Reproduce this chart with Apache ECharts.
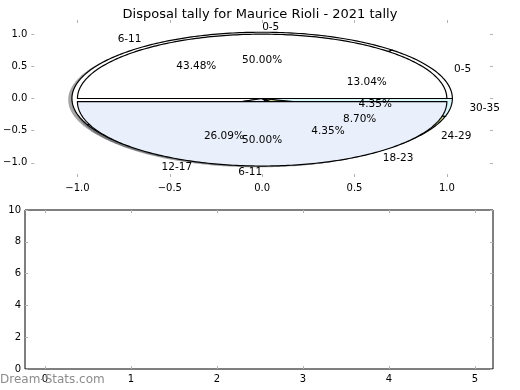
<!DOCTYPE html>
<html><head><meta charset="utf-8">
<script src="https://cdn.jsdelivr.net/npm/echarts@6/dist/echarts.min.js"></script>
<style>html,body{margin:0;padding:0;background:#fff}#c{width:520px;height:390px}</style>
</head><body><div id="c"></div>
<script>
// ---- data ----
const titleText = 'Disposal tally for Maurice Rioli - 2021 tally';
const halfCategories = ['0-5', '6-11'];
const halfValues = [1, 1];
const tallyCategories = ['0-5', '6-11', '12-17', '18-23', '24-29', '30-35'];
const tallyValues = [3, 10, 6, 1, 2, 1];
const pieTickValues = [-1.0, -0.5, 0.0, 0.5, 1.0];
const lowerXTicks = [0, 1, 2, 3, 4, 5];
const lowerYTicks = [0, 2, 4, 6, 8, 10];
const watermark = 'Dream-Stats.com';

// ---- styles ----
const FONT = 'DejaVu Sans';
const halfColors = ['#ffffff', '#eaf0fb'];
const tallyColors = ['#ffffff', '#ffffff', '#eaf0fb', '#ffffff', '#cbdb92', '#d9f6fa'];
const halfExplode = [0, 0.05];
const tallyExplode = [0, 0, 0, 0, 0, 0];
const halfRadius = 1.0;
const tallyRadius = 1.03;

function buildWedges(cats, values, colors, explode, radius) {
  const total = values.reduce((a, b) => a + b, 0);
  let theta = 0;
  return values.map((v, i) => {
    const t1 = theta, t2 = theta + 360 * v / total;
    theta = t2;
    const mid = (t1 + t2) / 2 * Math.PI / 180;
    const cx = explode[i] * Math.cos(mid), cy = explode[i] * Math.sin(mid);
    const xt = cx + 1.1 * radius * Math.cos(mid), yt = cy + 1.1 * radius * Math.sin(mid);
    return {
      t1, t2, cx, cy, r: radius, color: colors[i],
      label: cats[i], lx: xt, ly: yt, align: xt > 0 ? 'left' : 'right',
      pct: (v / total * 100).toFixed(2) + '%',
      px: cx + 0.6 * radius * Math.cos(mid), py: cy + 0.6 * radius * Math.sin(mid)
    };
  });
}
const halfW = buildWedges(halfCategories, halfValues, halfColors, halfExplode, halfRadius);
const tallyW = buildWedges(tallyCategories, tallyValues, tallyColors, tallyExplode, tallyRadius);

function wedgePoints(api, w, dx, dy) {
  const pts = [api.coord([w.cx + dx, w.cy + dy])];
  const n = Math.max(2, Math.ceil((w.t2 - w.t1) / 1));
  for (let k = 0; k <= n; k++) {
    const t = (w.t1 + (w.t2 - w.t1) * k / n) * Math.PI / 180;
    pts.push(api.coord([w.cx + dx + w.r * Math.cos(t), w.cy + dy + w.r * Math.sin(t)]));
  }
  return pts;
}
function shadowColor(hex) {
  const r = parseInt(hex.slice(1, 3), 16) * 0.3, g = parseInt(hex.slice(3, 5), 16) * 0.3, b = parseInt(hex.slice(5, 7), 16) * 0.3;
  return 'rgba(' + Math.round(r) + ',' + Math.round(g) + ',' + Math.round(b) + ',0.5)';
}
const allShadows = tallyW.concat(halfW);
const allLabels = tallyW.concat(halfW);

function fmtPie(v) { return (v < 0 ? '\u2212' : '') + Math.abs(v).toFixed(1); }

const tickStyle = { show: true, inside: true, length: 3, lineStyle: { color: '#b3b3b3', width: 1 } };
const labelStyle = { color: '#000', fontSize: 10, fontFamily: FONT };
const noLine = { show: false, onZero: false };

const chart = echarts.init(document.getElementById('c'), null, { renderer: 'canvas' });
chart.setOption({
  animation: false,
  backgroundColor: '#fff',
  title: { text: titleText, left: 'center', top: 3, textStyle: { fontSize: 13, fontWeight: 'normal', fontFamily: FONT, color: '#000' } },
  graphic: [{ type: 'text', left: 0, top: 374, z: 100, style: { text: watermark, fontSize: 12, fontFamily: FONT, fill: '#8c8c8c' } }],
  grid: [
    { left: 25, right: 27, top: 20, height: 157, show: false },
    { left: 25, right: 27, top: 210, height: 159, show: true, borderColor: '#000', borderWidth: 1, backgroundColor: 'transparent' }
  ],
  xAxis: [
    { gridIndex: 0, type: 'value', min: -1.25, max: 1.25, position: 'bottom', axisLine: noLine, splitLine: { show: false },
      axisTick: Object.assign({}, tickStyle, { customValues: pieTickValues }),
      axisLabel: Object.assign({}, labelStyle, { customValues: pieTickValues, formatter: fmtPie, margin: 6 }) },
    { gridIndex: 0, type: 'value', min: -1.25, max: 1.25, position: 'top', axisLine: noLine, splitLine: { show: false },
      axisTick: Object.assign({}, tickStyle, { customValues: pieTickValues }), axisLabel: { show: false } },
    { gridIndex: 1, type: 'value', min: -0.233, max: 5.209, position: 'bottom', axisLine: noLine, splitLine: { show: false },
      axisTick: Object.assign({}, tickStyle, { customValues: lowerXTicks }),
      axisLabel: Object.assign({}, labelStyle, { customValues: lowerXTicks, margin: 5 }) },
    { gridIndex: 1, type: 'value', min: -0.233, max: 5.209, position: 'top', axisLine: noLine, splitLine: { show: false },
      axisTick: Object.assign({}, tickStyle, { customValues: lowerXTicks }), axisLabel: { show: false } }
  ],
  yAxis: [
    { gridIndex: 0, type: 'value', min: -1.22, max: 1.22, position: 'left', axisLine: noLine, splitLine: { show: false },
      axisTick: Object.assign({}, tickStyle, { customValues: pieTickValues }),
      axisLabel: Object.assign({}, labelStyle, { customValues: pieTickValues, formatter: fmtPie, margin: 4 }) },
    { gridIndex: 0, type: 'value', min: -1.22, max: 1.22, position: 'right', axisLine: noLine, splitLine: { show: false },
      axisTick: Object.assign({}, tickStyle, { customValues: pieTickValues }), axisLabel: { show: false } },
    { gridIndex: 1, type: 'value', min: 0, max: 10, interval: 2, position: 'left', axisLine: noLine, splitLine: { show: false },
      axisTick: Object.assign({}, tickStyle, { customValues: lowerYTicks }),
      axisLabel: Object.assign({}, labelStyle, { customValues: lowerYTicks, margin: 4 }) },
    { gridIndex: 1, type: 'value', min: 0, max: 10, interval: 2, position: 'right', axisLine: noLine, splitLine: { show: false },
      axisTick: Object.assign({}, tickStyle, { customValues: lowerYTicks }), axisLabel: { show: false } }
  ],
  series: [
    { type: 'custom', xAxisIndex: 0, yAxisIndex: 0, z: 2, silent: true, clip: false, data: allShadows.map((w, i) => [i]),
      renderItem: (params, api) => {
        const w = allShadows[params.dataIndex];
        return { type: 'polygon', shape: { points: wedgePoints(api, w, -0.02, -0.02) }, style: { fill: shadowColor(w.color), stroke: null } };
      } },
    { type: 'custom', xAxisIndex: 0, yAxisIndex: 0, z: 3, silent: true, clip: false, data: tallyW.map((w, i) => [i]),
      renderItem: (params, api) => {
        const w = tallyW[params.dataIndex];
        return { type: 'polygon', shape: { points: wedgePoints(api, w, 0, 0) }, style: { fill: w.color, stroke: '#000', lineWidth: 1.2 } };
      } },
    { type: 'custom', xAxisIndex: 0, yAxisIndex: 0, z: 4, silent: true, clip: false, data: halfW.map((w, i) => [i]),
      renderItem: (params, api) => {
        const w = halfW[params.dataIndex];
        return { type: 'polygon', shape: { points: wedgePoints(api, w, 0, 0) }, style: { fill: w.color, stroke: '#000', lineWidth: 1.2 } };
      } },
    { type: 'custom', xAxisIndex: 0, yAxisIndex: 0, z: 5, silent: true, clip: false, data: allLabels.map((w, i) => [i]),
      renderItem: (params, api) => {
        const w = allLabels[params.dataIndex];
        const lp = api.coord([w.lx, w.ly]);
        const pp = api.coord([w.px, w.py]);
        return { type: 'group', children: [
          { type: 'text', x: lp[0], y: lp[1], style: { text: w.label, fontSize: 10.5, fontFamily: FONT, fill: '#000', align: w.align, verticalAlign: 'middle' } },
          { type: 'text', x: pp[0], y: pp[1], style: { text: w.pct, fontSize: 10.5, fontFamily: FONT, fill: '#000', align: 'center', verticalAlign: 'middle' } }
        ] };
      } },
    { type: 'line', xAxisIndex: 2, yAxisIndex: 2, data: [] }
  ]
});
</script></body></html>
